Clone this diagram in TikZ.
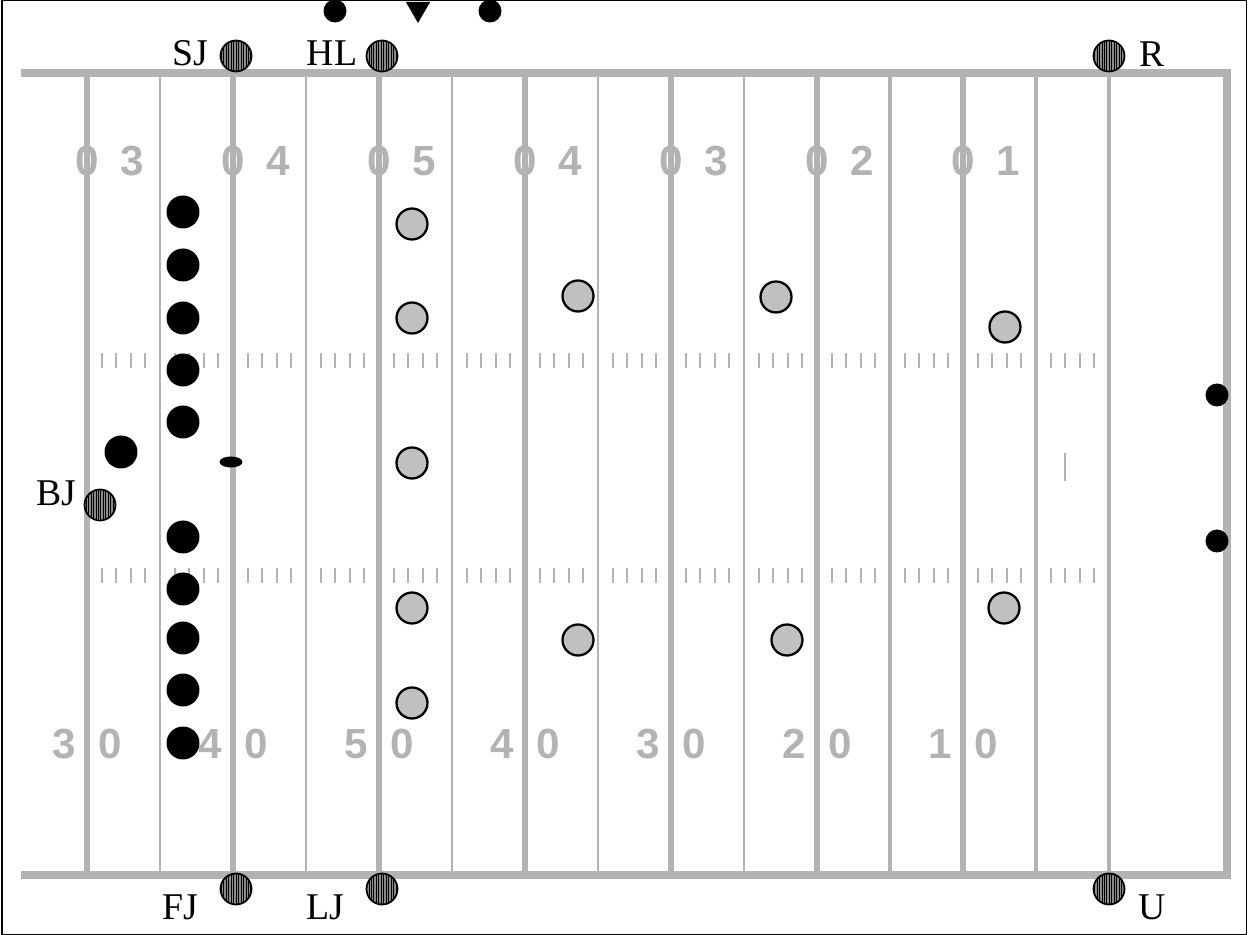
\documentclass[tikz,border=0pt]{standalone}
\usepackage{fontspec}
\setmainfont{Liberation Serif}
\newfontfamily\numfont{Liberation Sans}
\usepackage{tikz}
\usetikzlibrary{shapes.geometric,patterns.meta}
\definecolor{linegray}{HTML}{B3B3B3}
\definecolor{defgray}{HTML}{C0C0C0}
\definecolor{offgray}{HTML}{8A8A8A}
\tikzset{
  % Field markings
  sideline/.style={linegray,line width=5.1pt},
  yardthick/.style={linegray,line width=3.4pt},
  hash/.style={linegray,line width=1.1pt},
  num/.style={font=\numfont\bfseries\fontsize{24pt}{27pt}\selectfont,text=linegray,
              inner sep=0pt,text height=0.56cm,text depth=0pt},
  % Players
  offense/.style={circle,fill=black,minimum size=0.66cm,inner sep=0pt},
  defense/.style={circle,draw=black,line width=1.3pt,fill=defgray,minimum size=0.62cm,
                  inner sep=0pt},
  ball/.style={ellipse,fill=black,minimum width=0.46cm,minimum height=0.22cm,inner sep=0pt},
  % Officials (striped discs) and their labels
  official/.style={circle,draw=black,line width=1pt,minimum size=0.62cm,inner sep=0pt,
                   preaction={fill=offgray},
                   pattern={Lines[angle=90,distance=1.4pt,line width=0.45pt]},
                   pattern color=black},
  lbl/.style={font=\fontsize{21.5pt}{24pt}\selectfont,inner sep=0pt,anchor=base},
  % Sideline markers
  marker/.style={circle,fill=black,minimum size=0.46cm,inner sep=0pt},
  pointer/.style={regular polygon,regular polygon sides=3,shape border rotate=180,
                  fill=black,minimum size=0.56cm,inner sep=0pt}
}
\begin{document}
\begin{tikzpicture}[x=0.02cm,y=-0.02cm]
  \useasboundingbox (0,0) rectangle (1249,935);
  \draw[line width=0.6pt] (2,0.5) rectangle (1246.5,934.5);

  % --- Field: yard lines, sidelines, hash marks ---
  \foreach \k in {0,2,...,12}
    \draw[yardthick] ({87+73*\k},73) -- ({87+73*\k},875);
  \foreach \k/\w in {1/0.9,3/0.9,5/1.4,7/1.4,9/0.9,11/1.9,13/2.3,14/2.8}
    \draw[linegray,line width=\w pt] ({87+73*\k},73) -- ({87+73*\k},875);
  \draw[sideline] (21,73) -- (1227,73) -- (1227,875) -- (21,875);
  \foreach \k in {0,...,13}
    \foreach \j in {1,...,4} {
      \draw[hash] ({87+73*\k+14.6*\j},353) -- ++(0,15);
      \draw[hash] ({87+73*\k+14.6*\j},568) -- ++(0,15);
    }
  \draw[linegray,line width=0.6pt] (1065,453) -- (1065,481);

  % --- Yard numbers ---
  \foreach \k/\d in {0/3,2/4,4/5,6/4,8/3,10/2,12/1} {
    \node[num] (tz\k) at ({87+73*\k},162) {0};
    \node[num] (td\k) at ({132+73*\k},162) {\d};
    \node[num] (bd\k) at ({64+73*\k},745) {\d};
    \node[num] (bz\k) at ({110+73*\k},745) {0};
  }

  % --- Offense ---
  \foreach \y [count=\i] in {212,265,318,370,422,537,589,638,690,743}
    \node[offense] (o\i) at (183,\y) {};
  \node[offense] (back) at (121,452) {};
  \node[ball]    (ball) at (231,462) {};

  % --- Defense ---
  \node[defense] (d1)  at (412,224) {};
  \node[defense] (d2)  at (412,318) {};
  \node[defense] (d3)  at (578,296) {};
  \node[defense] (d4)  at (776,297) {};
  \node[defense] (d5)  at (1005,327) {};
  \node[defense] (d6)  at (412,463) {};
  \node[defense] (d7)  at (412,608) {};
  \node[defense] (d8)  at (578,640) {};
  \node[defense] (d9)  at (787,640) {};
  \node[defense] (d10) at (1004,608) {};
  \node[defense] (d11) at (412,703) {};

  % --- Officials ---
  \node[official] (sj) at (236,56)  {};
  \node[official] (hl) at (382,56)  {};
  \node[official] (r)  at (1109,56) {};
  \node[official] (bj) at (100,505) {};
  \node[official] (fj) at (236,889) {};
  \node[official] (lj) at (382,889) {};
  \node[official] (u)  at (1109,889){};
  \node[lbl] (sjl) at (190,66)  {SJ};
  \node[lbl] (hll) at (332,66)  {HL};
  \node[lbl] (rl)  at (1152,67) {R};
  \node[lbl] (bjl) at (56,506)  {BJ};
  \node[lbl] (fjl) at (180,920) {FJ};
  \node[lbl] (ljl) at (325,920) {LJ};
  \node[lbl] (ul)  at (1152,920){U};

  % --- Markers on the top sideline and the end line ---
  \node[marker]  (m1) at (335,11)   {};
  \node[pointer] (m2) at (418,9)    {};
  \node[marker]  (m3) at (490,11)   {};
  \node[marker]  (m4) at (1217,395) {};
  \node[marker]  (m5) at (1217,541) {};
\end{tikzpicture}
\end{document}
